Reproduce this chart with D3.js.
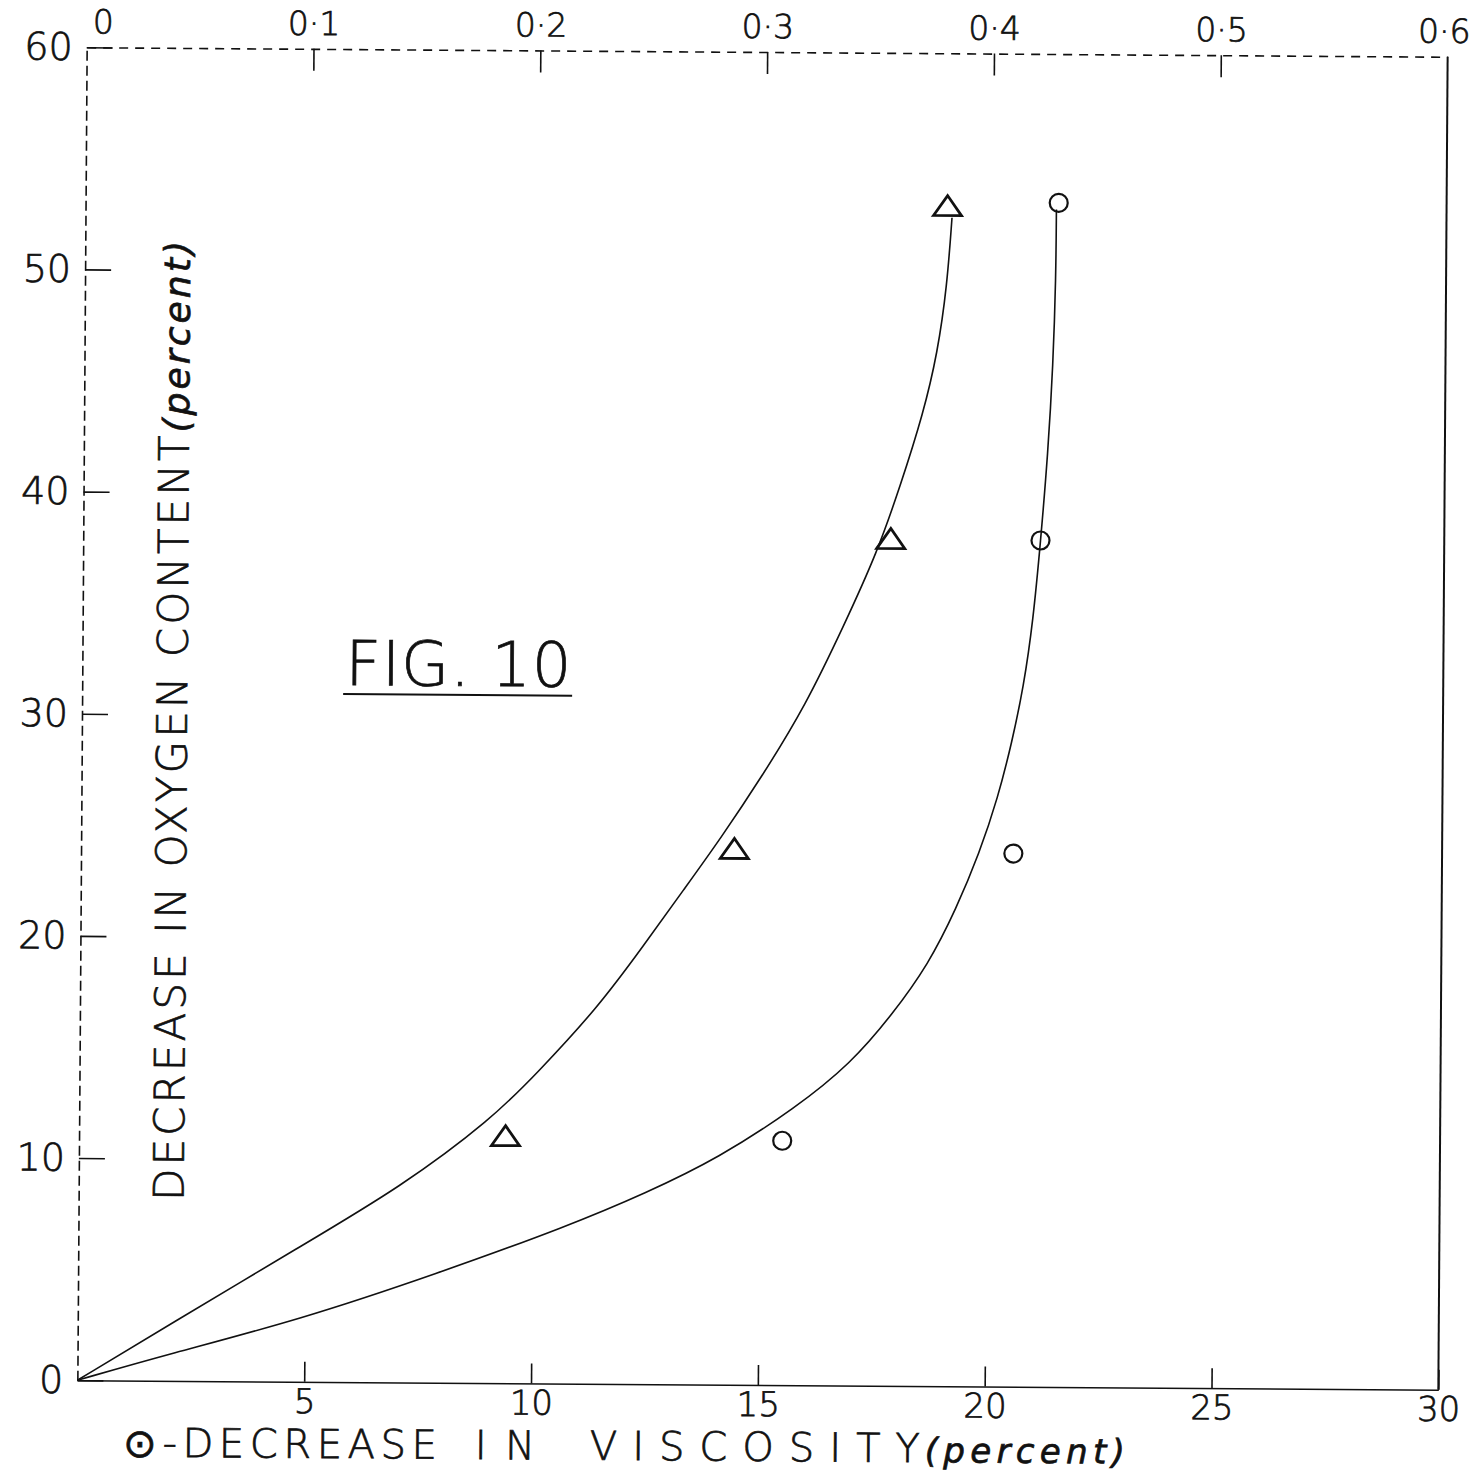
<!DOCTYPE html>
<html>
<head>
<meta charset="utf-8">
<script src="https://cdn.jsdelivr.net/npm/d3@7"></script>
<style>
body{margin:0;background:#fff;}
text{font-family:"DejaVu Sans",sans-serif;font-weight:200;fill:#111;stroke:#111;stroke-width:0.7;}
.axis path,.axis line{stroke:#111;stroke-width:1.6;}
</style>
</head>
<body>
<div id="viz"></div>
<script>
// tick values
var xTicks=[5,10,15,20,25,30];
var yTicks=[0,10,20,30,40,50,60];
var topTicks=[0,0.1,0.2,0.3,0.4,0.5,0.6];

// measured points (triangles / circles)
var triX=[9.4,14.4,17.8,19.0];
var triY=[11.1,24.1,38.1,53.1];
var cirX=[15.5,20.55,21.1,21.45];
var cirY=[11.0,24.0,38.1,53.3];

// hand drawn curves
var triCurveX=[0,2.0,4.9,7.1,9.1,10.1,11.4,12.4,13.3,14.1,15.0,15.95,16.8,17.5,18.0,18.5,18.8,19.0,19.1];
var triCurveY=[0,2.5,6.1,8.8,11.9,14.0,16.9,19.7,22.3,24.6,27.4,30.6,34.3,37.5,40.5,43.8,46.5,49.5,52.6];
var cirCurveX=[0,2.0,4.9,7.9,10.8,12.5,14.1,15.8,17.0,17.9,18.7,19.3,19.8,20.2,20.5,20.75,20.95,21.1,21.25,21.35,21.4,21.4];
var cirCurveY=[0,1.2,2.8,4.9,7.1,8.6,10.2,12.5,14.5,16.7,19.0,21.5,24.0,26.5,29.0,31.5,34.5,38.0,42.0,46.0,50.0,53.0];

var width=1474, height=1471;
var svg=d3.select("#viz").append("svg")
  .attr("width",width).attr("height",height);
svg.append("rect").attr("width",width).attr("height",height).attr("fill","#fff");

// the scanned sheet is a bit skewed
var g=svg.append("g").attr("transform","rotate(0.4,763,718)");

var x=d3.scaleLinear().domain([0,30]).range([82,1443]);
var xTop=d3.scaleLinear().domain([0,0.6]).range([82,1443]);
var y=d3.scaleLinear().domain([0,60]).range([1385,52]);

// bottom axis
var bottomAx=g.append("g").attr("class","axis")
  .attr("transform","translate(0,"+y(0)+")")
  .call(d3.axisBottom(x).tickValues(xTicks).tickSizeInner(-20).tickSizeOuter(0).tickPadding(7));
bottomAx.selectAll("text").style("font-size","34px");

// left axis
var leftAx=g.append("g").attr("class","axis")
  .attr("transform","translate("+x(0)+",0)")
  .call(d3.axisLeft(y).tickValues(yTicks).tickSizeInner(-26).tickSizeOuter(0).tickPadding(14));
leftAx.select(".domain").attr("stroke-dasharray","10,5");
leftAx.selectAll("text").style("font-size","38px");

// top axis
var topAx=g.append("g").attr("class","axis")
  .attr("transform","translate(0,"+y(60)+")")
  .call(d3.axisTop(xTop).tickValues(topTicks).tickSizeInner(-22).tickSizeOuter(0).tickPadding(14)
    .tickFormat(function(d){return d===0?"0":d3.format(".1f")(d).replace(".","·");}));
topAx.select(".domain").attr("stroke-dasharray","9,7");
topAx.selectAll("text").style("font-size","33px");
topAx.selectAll(".tick").filter(function(d){return d===0||d===0.6;}).select("line").remove();
topAx.selectAll(".tick").filter(function(d){return d===0;}).select("text").attr("x",16);
topAx.selectAll(".tick").filter(function(d){return d===0.6;}).select("text").attr("x",-4);

// right axis
g.append("line")
  .attr("x1",x(30)).attr("x2",x(30))
  .attr("y1",y(60)).attr("y2",y(0))
  .attr("stroke","#111").attr("stroke-width",2);

// curves
var line=d3.line()
  .x(function(d){return x(d[0]);})
  .y(function(d){return y(d[1]);})
  .curve(d3.curveBasis);

g.append("path")
  .datum(d3.zip(triCurveX,triCurveY))
  .attr("d",line)
  .attr("fill","none").attr("stroke","#111").attr("stroke-width",1.6);
g.append("path")
  .datum(d3.zip(cirCurveX,cirCurveY))
  .attr("d",line)
  .attr("fill","none").attr("stroke","#111").attr("stroke-width",1.6);

// triangles
g.selectAll(".tri")
  .data(d3.zip(triX,triY))
  .enter()
  .append("path")
  .attr("class","tri")
  .attr("d",function(d){
    var cx=x(d[0]), cy=y(d[1]);
    return "M"+(cx-14)+","+(cy+9)+"L"+cx+","+(cy-11)+"L"+(cx+14)+","+(cy+9)+"Z";
  })
  .attr("fill","none").attr("stroke","#111").attr("stroke-width",2.8);

// circles
g.selectAll(".cir")
  .data(d3.zip(cirX,cirY))
  .enter()
  .append("circle")
  .attr("class","cir")
  .attr("cx",function(d){return x(d[0]);})
  .attr("cy",function(d){return y(d[1]);})
  .attr("r",9)
  .attr("fill","none").attr("stroke","#111").attr("stroke-width",2.2);

// axis titles
var yt=g.append("text")
  .attr("transform","translate(187,1205) rotate(-90)")
  .attr("textLength",960)
  .attr("lengthAdjust","spacing")
  .style("font-size","42px");
yt.append("tspan").text("DECREASE IN OXYGEN CONTENT");
yt.append("tspan").text("(percent)").style("font-style","italic").style("font-size","36px");

// x title, word by word as lettered
var xWords=[
  {t:"⊙-DECREASE",x0:128,x1:442},
  {t:"IN",x0:480,x1:540},
  {t:"VISCOSITY",x0:595,x1:925},
  {t:"(percent)",x0:930,x1:1130}
];
g.selectAll(".xw")
  .data(xWords)
  .enter()
  .append("text")
  .attr("class","xw")
  .attr("x",function(d){return d.x0;})
  .attr("y",1461)
  .attr("textLength",function(d){return d.x1-d.x0;})
  .attr("lengthAdjust","spacing")
  .style("font-size",function(d){return d.t==="(percent)"?"34px":"40px";})
  .style("font-style",function(d){return d.t==="(percent)"?"italic":"normal";})
  .text(function(d){return d.t;});

// figure caption
g.append("text")
  .attr("x",345).attr("y",688)
  .attr("textLength",226)
  .attr("lengthAdjust","spacing")
  .style("font-size","62px")
  .text("FIG. 10");
g.append("line")
  .attr("x1",343).attr("x2",572)
  .attr("y1",697).attr("y2",697)
  .attr("stroke","#111").attr("stroke-width",2);
</script>
</body>
</html>
